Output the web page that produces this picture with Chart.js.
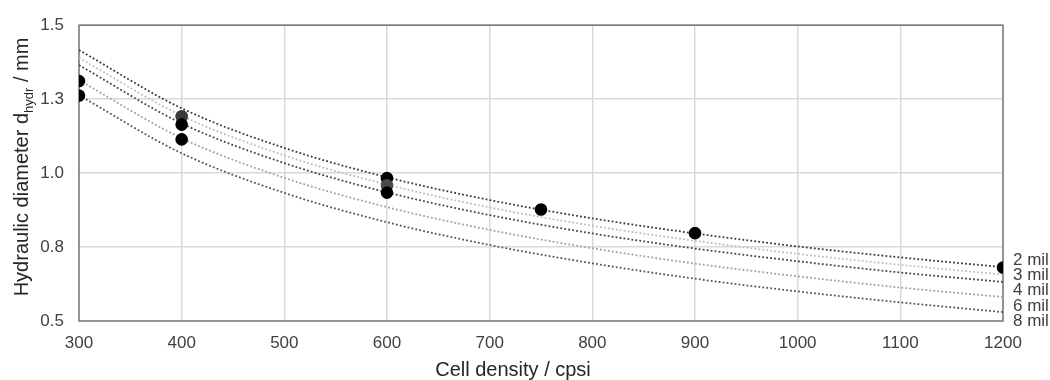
<!DOCTYPE html>
<html>
<head>
<meta charset="utf-8">
<script src="https://cdn.jsdelivr.net/npm/chart.js@4/dist/chart.umd.min.js"></script>
<style>
  html, body { margin: 0; padding: 0; background: #ffffff; }
  #wrap { width: 1050px; height: 380px; }
</style>
</head>
<body>
<div id="wrap"><canvas id="c" width="1050" height="380"></canvas></div>
<script>
// ---- data ----
const cellDensity = [300, 400, 500, 600, 700, 800, 900, 1000, 1100, 1200];
const wallLabels = ['2 mil', '3 mil', '4 mil', '6 mil', '8 mil'];
const curve2mil = [1.416, 1.219, 1.085, 0.986, 0.909, 0.847, 0.796, 0.752, 0.715, 0.682];
const curve3mil = [1.390, 1.194, 1.060, 0.961, 0.884, 0.822, 0.771, 0.727, 0.690, 0.657];
const curve4mil = [1.365, 1.168, 1.034, 0.935, 0.858, 0.796, 0.745, 0.702, 0.664, 0.632];
const curve6mil = [1.314, 1.118, 0.984, 0.885, 0.808, 0.746, 0.694, 0.651, 0.613, 0.581];
const curve8mil = [1.263, 1.067, 0.933, 0.834, 0.757, 0.695, 0.643, 0.600, 0.563, 0.530];
const pointX = [300, 300, 400, 400, 400, 600, 600, 600, 750, 900, 1200];
const pointY = [1.311, 1.262, 1.192, 1.164, 1.114, 0.983, 0.959, 0.934, 0.877, 0.797, 0.681];
const pointShade = ['#000000', '#000000', '#3a3a3a', '#000000', '#000000', '#000000', '#4a4a4a', '#000000', '#000000', '#000000', '#000000'];
const xTickStep = 100;
const yTickStep = 0.25;

const curves = [curve2mil, curve3mil, curve4mil, curve6mil, curve8mil];
const curveColors = ['#3a3a3a', '#bdbdbd', '#444444', '#a0a0a0', '#555555'];

const FONT = '"Liberation Sans", Arial, sans-serif';

const lineSets = curves.map((vals, i) => ({
  label: wallLabels[i],
  data: cellDensity.map((x, j) => ({ x: x, y: vals[j] })),
  showLine: true,
  borderColor: curveColors[i],
  borderWidth: 1.8,
  borderDash: [1.8, 2.2],
  pointRadius: 0,
  cubicInterpolationMode: 'monotone',
  fill: false,
  order: 1
}));

const pointSet = {
  label: 'measured',
  data: pointX.map((x, i) => ({ x: x, y: pointY[i] })),
  showLine: false,
  pointRadius: 6.3,
  pointBackgroundColor: pointShade,
  pointBorderColor: pointShade,
  pointBorderWidth: 0,
  order: 0
};

const decor = {
  id: 'decor',
  beforeDatasetsDraw(chart) {
    const { ctx, chartArea: a } = chart;
    ctx.save();
    ctx.strokeStyle = '#7a7a7a';
    ctx.lineWidth = 1.5;
    ctx.strokeRect(a.left, a.top, a.right - a.left, a.bottom - a.top);
    ctx.restore();
  },
  afterDraw(chart) {
    const { ctx, chartArea: a } = chart;
    ctx.save();
    ctx.fillStyle = '#262626';
    // x title
    ctx.font = '20px ' + FONT;
    ctx.textAlign = 'center';
    ctx.textBaseline = 'alphabetic';
    ctx.fillText('Cell density / cpsi', 513, 376);

    // y title with subscript
    const mainFont = '20px ' + FONT;
    const subFont = '13px ' + FONT;
    const p1 = 'Hydraulic diameter d';
    const p2 = 'hydr';
    const p3 = ' / mm';
    ctx.font = mainFont;
    const w1 = ctx.measureText(p1).width;
    const w3 = ctx.measureText(p3).width;
    ctx.font = subFont;
    const w2 = ctx.measureText(p2).width;
    const W = w1 + w2 + w3;
    ctx.translate(28, 167);
    ctx.rotate(-Math.PI / 2);
    ctx.textAlign = 'left';
    let x = -W / 2;
    ctx.font = mainFont;
    ctx.fillText(p1, x, 0);
    x += w1;
    ctx.font = subFont;
    ctx.fillText(p2, x, 5);
    x += w2;
    ctx.font = mainFont;
    ctx.fillText(p3, x, 0);
    ctx.restore();

    // right-hand curve labels
    ctx.save();
    ctx.fillStyle = '#404040';
    ctx.font = '17px ' + FONT;
    ctx.textAlign = 'left';
    ctx.textBaseline = 'middle';
    wallLabels.forEach((t, i) => {
      ctx.fillText(t, a.right + 10, 260 + i * 15.4);
    });
    ctx.restore();
  }
};

new Chart(document.getElementById('c'), {
  type: 'scatter',
  data: { datasets: [pointSet].concat(lineSets) },
  options: {
    responsive: false,
    animation: false,
    devicePixelRatio: 1,
    layout: { padding: { left: 0, right: 47, top: 21, bottom: 0 } },
    plugins: { legend: { display: false }, tooltip: { enabled: false } },
    scales: {
      x: {
        type: 'linear',
        min: 300, max: 1200,
        afterFit(s) { s.height = 59; },
        ticks: {
          stepSize: xTickStep, color: '#404040', font: { family: FONT, size: 17 }, padding: 12,
          callback: v => String(Math.round(v))
        },
        grid: { color: '#d9d9d9', lineWidth: 1.5, drawTicks: false },
        border: { display: false }
      },
      y: {
        type: 'linear',
        min: 0.5, max: 1.5,
        afterFit(s) { s.width = 79; },
        ticks: {
          stepSize: yTickStep, color: '#404040', font: { family: FONT, size: 17 }, padding: 15,
          callback: v => Number(v).toFixed(1)
        },
        grid: { color: '#d9d9d9', lineWidth: 1.5, drawTicks: false },
        border: { display: false }
      }
    }
  },
  plugins: [decor]
});
</script>
</body>
</html>
